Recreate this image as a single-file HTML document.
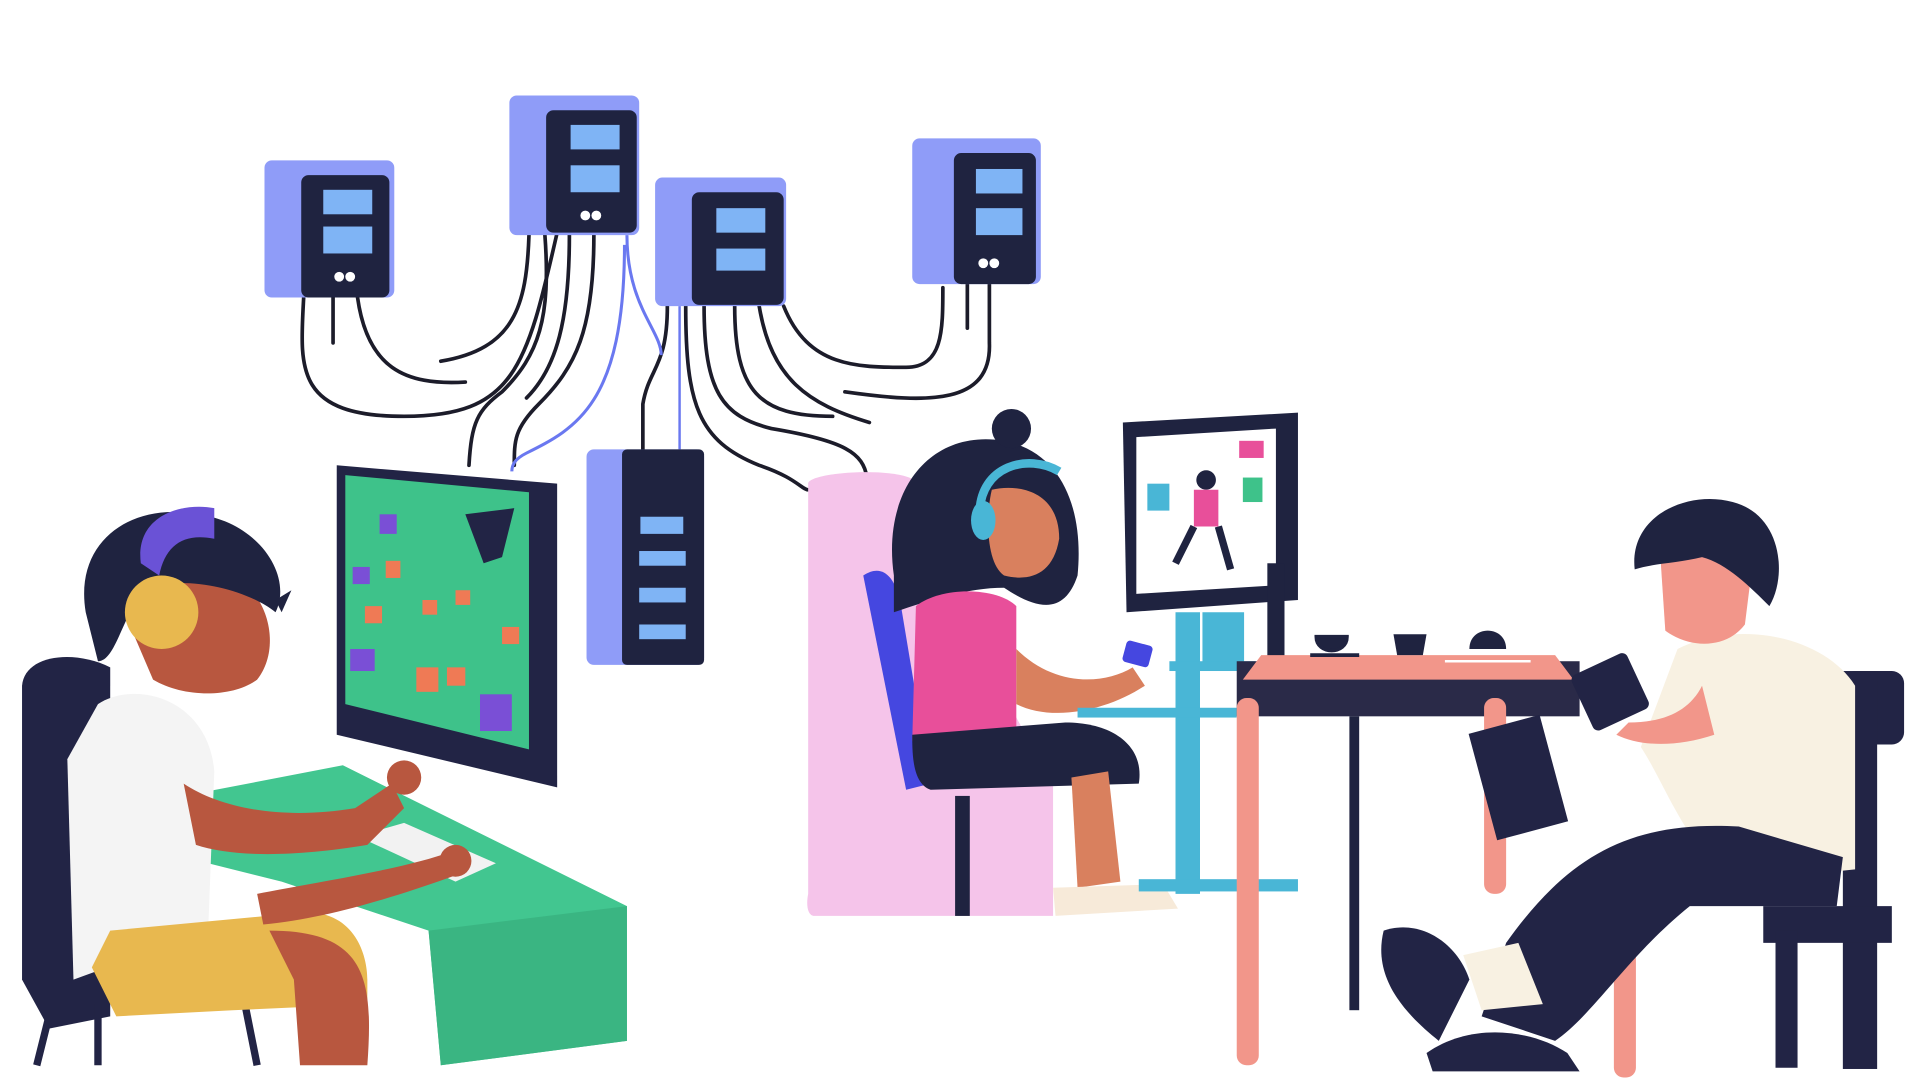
<!DOCTYPE html>
<html><head><meta charset="utf-8"><style>
html,body{margin:0;padding:0;background:#fff;width:1920px;height:1080px;overflow:hidden}
svg{display:block}
</style></head><body>
<svg width="1920" height="1080" viewBox="0 0 1568 882" preserveAspectRatio="none" xmlns="http://www.w3.org/2000/svg">
<rect width="1568" height="882" fill="#fff"/>
<!-- cables -->
<g fill="none" stroke="#1c1c2a" stroke-width="3" stroke-linecap="round">
<path d="M248 243 C245 300 240 340 330 340 C420 340 430 300 455 190"/>
<path d="M272 243 L272 280"/>
<path d="M292 243 C300 300 330 315 380 312"/>
<path d="M360 295 C420 285 430 250 432 192"/>
<path d="M445 192 C450 260 440 290 410 320 C390 335 385 345 383 380"/>
<path d="M465 192 C465 260 455 300 430 325"/>
<path d="M485 192 C485 270 470 300 440 330 C420 350 420 360 420 380"/>
<path d="M545 250 C545 300 530 300 525 330 L525 367"/>
<path d="M560 250 C560 330 570 360 620 380 C650 390 655 400 660 400"/>
<path d="M575 250 C575 320 590 340 630 350 C690 360 705 370 708 390"/>
<path d="M600 250 C600 320 620 340 680 340"/>
<path d="M620 250 C630 310 660 330 710 345"/>
<path d="M640 250 C660 300 700 300 740 300 C770 300 770 270 770 235"/>
<path d="M690 320 C760 330 810 330 808 280 L808 232"/>
<path d="M790 232 L790 268"/>
</g>
<path d="M512 192 C512 250 540 270 540 290" fill="none" stroke="#6a78f0" stroke-width="2.5"/>
<path d="M510 200 C510 330 470 350 430 370 C420 375 418 380 418 385" fill="none" stroke="#6a78f0" stroke-width="2.5"/>
<path d="M555 250 L555 367" fill="none" stroke="#6a78f0" stroke-width="2"/>
<!-- servers -->
<g>
<rect x="216" y="131" width="106" height="112" rx="6" fill="#8f9cf8"/>
<rect x="246" y="143" width="72" height="100" rx="6" fill="#1f2340"/>
<rect x="416" y="78" width="106" height="114" rx="6" fill="#8f9cf8"/>
<rect x="446" y="90" width="74" height="100" rx="6" fill="#1f2340"/>
<rect x="535" y="145" width="107" height="105" rx="6" fill="#8f9cf8"/>
<rect x="565" y="157" width="75" height="92" rx="6" fill="#1f2340"/>
<rect x="745" y="113" width="105" height="119" rx="6" fill="#8f9cf8"/>
<rect x="779" y="125" width="67" height="107" rx="6" fill="#1f2340"/>
<rect x="479" y="367" width="96" height="176" rx="6" fill="#8f9cf8"/>
<rect x="508" y="367" width="67" height="176" rx="4" fill="#1f2340"/>
</g>
<g fill="#7fb4f5">
<rect x="264" y="155" width="40" height="20"/><rect x="264" y="185" width="40" height="22"/>
<rect x="466" y="102" width="40" height="20"/><rect x="466" y="135" width="40" height="22"/>
<rect x="585" y="170" width="40" height="20"/><rect x="585" y="203" width="40" height="18"/>
<rect x="797" y="138" width="38" height="20"/><rect x="797" y="170" width="38" height="22"/>
<rect x="523" y="422" width="35" height="14"/><rect x="522" y="450" width="38" height="12"/>
<rect x="522" y="480" width="38" height="12"/><rect x="522" y="510" width="38" height="12"/>
</g>
<g fill="#fff"><circle cx="277" cy="226" r="4"/><circle cx="286" cy="226" r="4"/><circle cx="478" cy="176" r="4"/><circle cx="487" cy="176" r="4"/><circle cx="803" cy="215" r="4"/><circle cx="812" cy="215" r="4"/></g>
<!-- left chair -->
<path d="M18 560 C20 535 60 530 90 545 L90 830 L40 840 L18 800 Z" fill="#222445"/>
<path d="M40 830 L30 870 M80 820 L80 870 M200 820 L210 870" stroke="#222445" stroke-width="6"/>
<!-- green desk -->
<polygon points="150,650 280,625 512,740 512,850 360,870 350,760 230,720 150,700" fill="#42c690"/>
<polygon points="350,760 512,740 512,850 360,870" fill="#3ab582"/>
<!-- left monitor -->
<path d="M275 380 L455 395 L455 643 L275 600 Z" fill="#222445"/>
<path d="M282 388 L432 402 L432 612 L282 575 Z" fill="#3ec28a"/>
<g fill="#ef7a55"><rect x="315" y="458" width="12" height="14"/><rect x="298" y="495" width="14" height="14"/><rect x="345" y="490" width="12" height="12"/><rect x="372" y="482" width="12" height="12"/><rect x="340" y="545" width="18" height="20"/><rect x="365" y="545" width="15" height="15"/><rect x="410" y="512" width="14" height="14"/></g>
<g fill="#7a4fd6"><rect x="310" y="420" width="14" height="16"/><rect x="288" y="463" width="14" height="14"/><rect x="286" y="530" width="20" height="18"/><rect x="392" y="567" width="26" height="30"/></g>
<path d="M380 420 L420 415 L410 455 L395 460 Z" fill="#222445"/>
<!-- keyboard -->
<polygon points="292,683 330,672 405,705 372,720" fill="#f2f2f2"/>
<!-- left boy -->
<path d="M80 575 C110 555 170 570 175 630 L170 760 L60 800 L55 620 Z" fill="#f4f4f4"/>
<path d="M75 790 L90 760 L250 745 C290 745 300 780 300 800 L300 820 L190 825 L95 830 Z" fill="#e8b84f"/>
<path d="M220 760 C300 760 305 800 300 870 L245 870 L240 800 Z" fill="#b8573f"/>
<path d="M150 640 C180 660 230 670 290 660 L320 640 L330 660 L300 690 C240 700 190 700 160 690 Z" fill="#b8573f"/>
<path d="M210 730 C260 720 330 710 370 695 L380 712 C330 730 270 750 215 755 Z" fill="#b8573f"/>
<circle cx="330" cy="635" r="14" fill="#b8573f"/><circle cx="372" cy="703" r="13" fill="#b8573f"/>
<path d="M110 520 C105 470 150 455 190 470 C220 485 230 530 210 555 C190 570 150 570 125 555 Z" fill="#b8573f"/>
<path d="M70 500 C60 440 110 410 160 420 C210 425 240 470 225 500 C200 480 150 470 120 480 C100 500 95 540 80 540 Z" fill="#1f2340"/>
<path d="M115 460 C110 420 150 410 175 415 L175 440 C150 435 135 445 130 470 Z" fill="#6a52d6"/>
<ellipse cx="132" cy="500" rx="30" ry="30" fill="#e8b84f"/>
<path d="M225 490 L238 482 L230 500 Z" fill="#1f2340"/>
<!-- pink chair -->
<path d="M660 395 C660 385 740 380 750 395 L760 460 L860 640 L860 748 L665 748 C660 748 658 740 660 730 Z" fill="#f5c4ea"/>
<path d="M705 470 C720 460 730 470 735 490 L760 640 L740 645 Z" fill="#4547e0"/>
<rect x="780" y="650" width="12" height="98" fill="#1f2340"/>
<!-- girl -->
<path d="M730 470 C720 400 760 350 820 360 C870 370 885 420 880 470 C870 500 850 500 820 480 C790 480 760 490 730 500 Z" fill="#1f2340"/>
<circle cx="826" cy="350" r="16" fill="#1f2340"/>
<path d="M810 400 C830 395 865 400 865 440 C860 470 840 475 820 470 C805 460 805 420 810 400 Z" fill="#d9805e"/>
<path d="M800 420 C800 380 840 370 865 385" fill="none" stroke="#49b6d6" stroke-width="7"/>
<ellipse cx="803" cy="425" rx="10" ry="16" fill="#49b6d6"/>
<path d="M748 495 C770 478 815 480 830 495 L830 600 L745 605 Z" fill="#e84f9a"/>
<path d="M830 530 C860 560 900 560 925 545 L935 560 C905 580 860 590 830 575 Z" fill="#d9805e"/>
<rect x="918" y="525" width="22" height="18" rx="3" fill="#4547e0" transform="rotate(15 929 534)"/>
<path d="M745 600 L870 590 C910 590 935 610 930 640 L760 645 C745 640 745 615 745 600 Z" fill="#1f2340"/>
<path d="M875 635 L905 630 L915 720 L880 725 Z" fill="#d9805e"/>
<path d="M860 725 L950 722 L962 742 L862 748 Z" fill="#f7ead9"/>
<!-- right monitor & stand -->
<rect x="960" y="500" width="20" height="230" fill="#49b6d6"/>
<rect x="982" y="500" width="34" height="45" fill="#49b6d6"/>
<rect x="955" y="540" width="70" height="8" fill="#49b6d6"/>
<rect x="880" y="578" width="130" height="8" fill="#49b6d6"/>
<rect x="930" y="718" width="130" height="10" fill="#49b6d6"/>
<path d="M917 345 L1060 337 L1060 490 L920 500 Z" fill="#1f2340"/>
<path d="M928 357 L1042 350 L1042 478 L928 485 Z" fill="#fff"/>
<circle cx="985" cy="392" r="8" fill="#1f2340"/>
<path d="M975 400 L995 400 L995 430 L975 430 Z" fill="#e84f9a"/>
<path d="M975 430 L960 460 M995 430 L1005 465" stroke="#1f2340" stroke-width="6"/>
<rect x="937" y="395" width="18" height="22" fill="#49b6d6"/><rect x="1012" y="360" width="20" height="14" fill="#e84f9a"/><rect x="1015" y="390" width="16" height="20" fill="#3ec28a"/>
<rect x="1035" y="460" width="14" height="80" fill="#1f2340"/>
<!-- table -->
<rect x="1010" y="540" width="280" height="45" fill="#2a2a48"/>
<polygon points="1015,555 1030,535 1270,535 1285,555" fill="#f2968a"/>
<rect x="1010" y="570" width="18" height="300" rx="8" fill="#f2968a"/>
<rect x="1212" y="570" width="18" height="160" rx="8" fill="#f2968a"/>
<rect x="1102" y="585" width="8" height="240" fill="#1f2340"/>
<path d="M1070 535 L1110 535 M1075 520 C1075 535 1100 535 1100 520 Z" stroke="#1f2340" stroke-width="3" fill="#1f2340"/>
<path d="M1138 518 L1165 518 L1162 535 L1141 535 Z" fill="#1f2340"/>
<path d="M1200 530 C1200 510 1230 510 1230 530 Z" fill="#1f2340"/>
<path d="M1180 540 L1250 540" stroke="#fff" stroke-width="2"/>
<!-- right chair -->
<rect x="1505" y="548" width="50" height="60" rx="10" fill="#222445"/>
<rect x="1505" y="548" width="28" height="325" fill="#222445"/>
<rect x="1440" y="740" width="105" height="30" fill="#222445"/>
<rect x="1450" y="760" width="18" height="112" fill="#222445"/>
<rect x="1318" y="730" width="18" height="150" rx="8" fill="#f2968a"/>
<rect x="1210" y="590" width="60" height="90" fill="#222445" transform="rotate(-15 1240 635)"/>
<!-- right boy -->
<path d="M1370 530 C1420 505 1490 520 1515 560 L1515 710 L1420 720 C1380 700 1360 640 1340 610 Z" fill="#f8f1e2"/>
<path d="M1230 770 C1280 700 1330 670 1420 675 L1505 700 L1500 740 L1380 740 C1330 780 1300 830 1270 850 L1210 830 Z" fill="#222445"/>
<path d="M1130 760 C1160 750 1190 770 1200 800 L1175 850 C1150 830 1120 800 1130 760 Z" fill="#222445"/>
<path d="M1165 860 C1200 835 1250 840 1280 860 L1290 875 L1170 875 Z" fill="#222445"/>
<path d="M1195 780 L1240 770 L1260 820 L1210 825 Z" fill="#f8f1e2"/>
<path d="M1355 440 C1380 425 1420 440 1430 470 L1425 510 C1410 530 1380 530 1360 515 Z" fill="#f2968a"/>
<path d="M1335 465 C1330 420 1380 400 1415 410 C1455 420 1460 470 1445 495 C1430 480 1410 460 1390 455 C1370 460 1350 460 1335 465 Z" fill="#1f2340"/>
<rect x="1290" y="540" width="50" height="50" rx="5" fill="#222445" transform="rotate(-25 1315 565)"/>
<path d="M1330 590 C1360 590 1380 580 1390 560 L1400 600 C1370 610 1340 610 1320 600 Z" fill="#f2968a"/>
</svg>
</body></html>
